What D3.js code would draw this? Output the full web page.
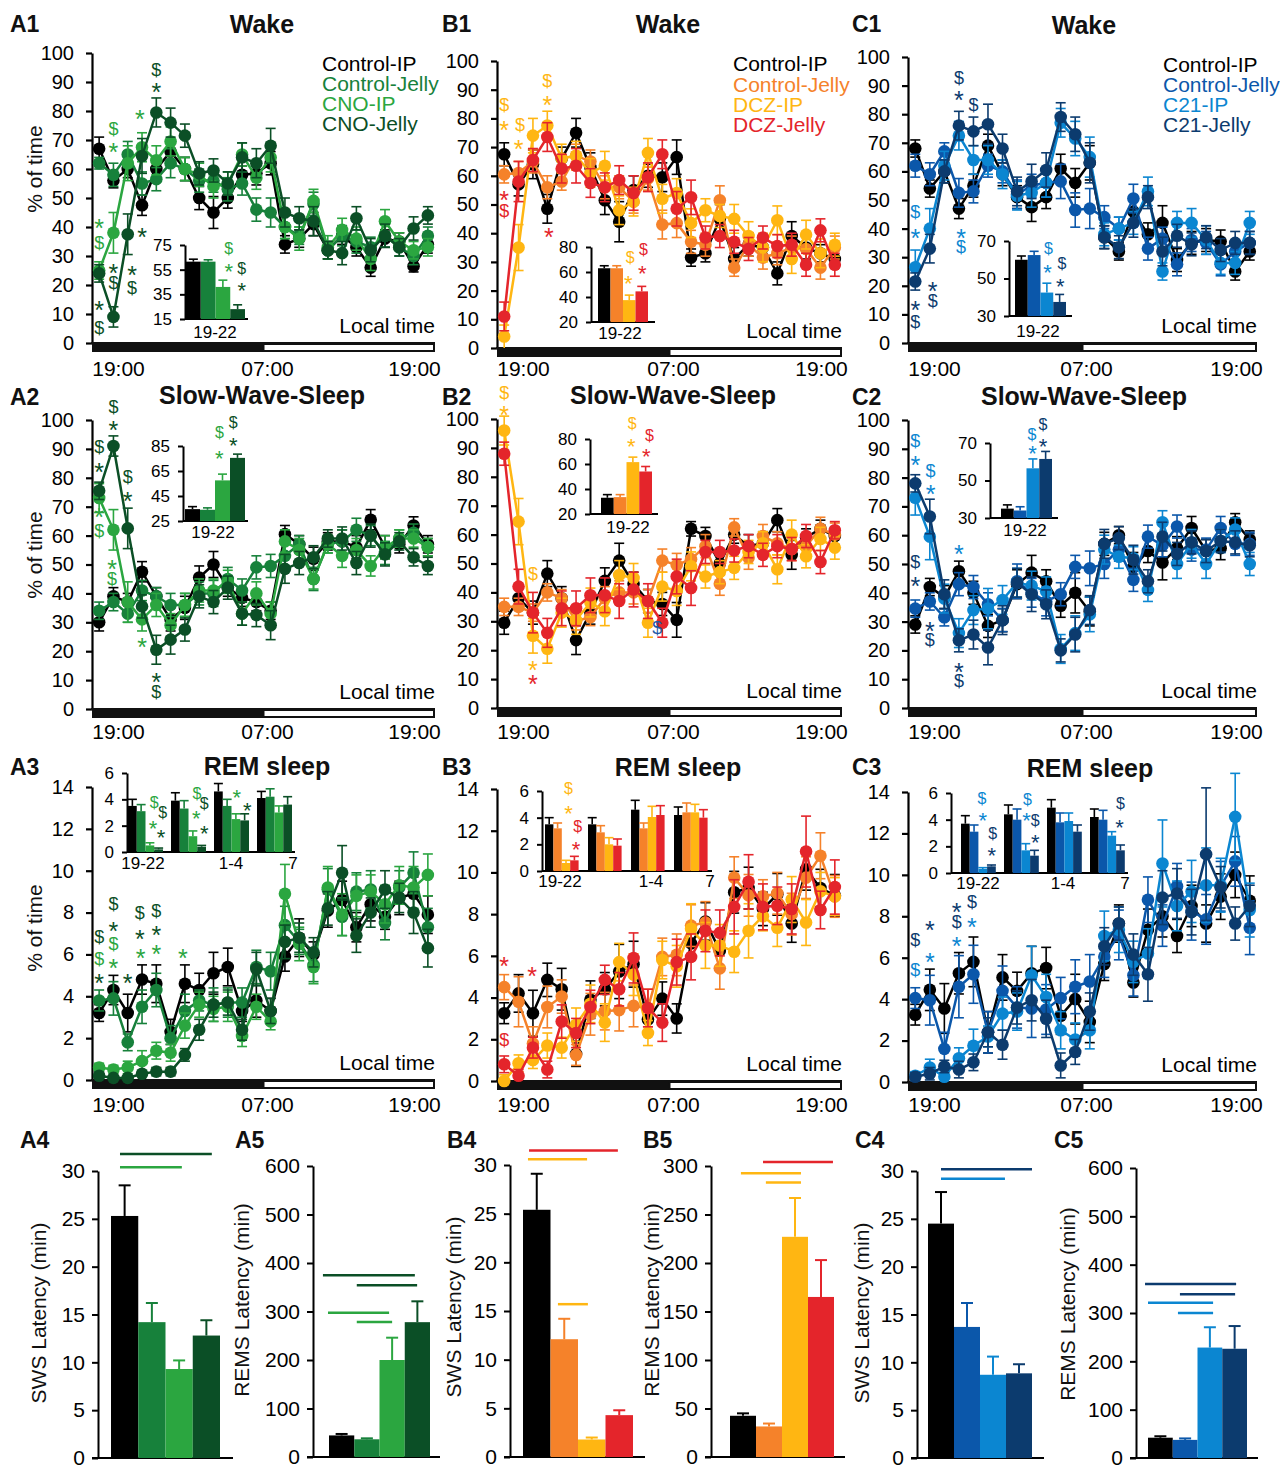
<!DOCTYPE html>
<html><head><meta charset="utf-8">
<script src="https://cdn.jsdelivr.net/npm/d3@7"></script>
<style>body{margin:0;background:#fff}svg{display:block}</style>
</head><body><script>
// ---------------- DATA ----------------
const hours = d3.range(24);
const xTickHours = [0, 12, 24];
const xTickLabels = ["19:00", "07:00", "19:00"];
const pctTicks = [0,10,20,30,40,50,60,70,80,90,100];
const remTicks = [0,2,4,6,8,10,12,14];
const swsLatTicks = [0,5,10,15,20,25,30];
const rems600Ticks = [0,100,200,300,400,500,600];
const rems300Ticks = [0,50,100,150,200,250,300];

const legendA = ["Control-IP","Control-Jelly","CNO-IP","CNO-Jelly"];
const legendB = ["Control-IP","Control-Jelly","DCZ-IP","DCZ-Jelly"];
const legendC = ["Control-IP","Control-Jelly","C21-IP","C21-Jelly"];
const colorsA = ["#000000","#17813b","#2ba640","#0b4f26"];
const colorsB = ["#000000","#f5822a","#ffb612","#e4252b"];
const colorsC = ["#000000","#0b57aa","#0b86d1","#0c3b6e"];

const titles = ["Wake","Slow-Wave-Sleep","REM sleep"];
const insetGroupLabels = ["19-22","1-4","7"];

// A1 Wake (CNO)
const A1_controlIP    = [67,56,60,47.5,60,66,60,50,45,50,58,58.5,62,34,36,41,32,37,33,26,36,35,26.5,34];
const A1_controlJelly = [62,58,65,55,56.5,62,60,56,56,53,55,46,45,40,37,48,32,37,35,33,37,33,30,37];
const A1_cnoIP        = [25,38,62,67.5,63,69.5,60,58,54,55,65,57,64,40,36,49,33,39,36,29,42,35,32,33];
const A1_cnoJelly     = [24,9,37.5,64.5,79.5,76,71.5,58.5,59.5,55,64,62,68,45,43,42,32,31,43,32,37,33,39.5,44];
const A1_err = [
 [4,2.5,3,3.5,3.5,4,4,4,5.5,3.5,3,4,4,3,3,4,3,3,3,3,3,3,2,3],
 [2,4,4.5,4,4,5,4,4,4,4,4,4,5,4,3,4,3,3.5,4,3.5,4,3,3,3],
 [3,7,6,5,5,5,4,4,4,4,4,4,5,4,4,4,4,4,4,4,4,3,3,3],
 [3,3.5,7,6,5,5,4,4,4,4,5,5,6,5,4,5,3,4,4,4,4,3,4,3]];
const A1_inset = [61.5,61.5,41,23];
const A1_insetErr = [2,1.5,5.5,3.5];
const A1_marks = [[0,41.4,"*",2],[0,34.5,"$",2],[0,13.2,"*",3],[0,5.2,"$",3],[1,74,"$",2],[1,67.8,"*",2],[1,25.9,"*",3],[1,20.7,"$",3],[2.3,25.3,"*",3],[2.3,19,"$",3],[3,38.5,"*",3],[2.85,79.3,"*",2],[4,94.3,"$",3],[4,88.3,"*",3]];
const A1_insetMarks = [[0,2.9,72.3,"$",2],[0,2.9,57.5,"*",2],[0,3.78,56.2,"$",3],[0,3.78,42,"*",3]];

// A2 SWS (CNO)
const A2_controlIP    = [30,39,37,47.5,39,31,35,45.5,50,42,38.5,37,34,60.5,57,52,58,58,56,65.5,56,57,63.5,57];
const A2_controlJelly = [34,37,33,41,39,36,36,40,40,45,41,49,49.5,53,57,45,57,58,62,60,54,59,61,56];
const A2_cnoIP        = [73,62,37,31,36,29,36,41,41,44,33,40,33,58,55,45,57,53,55,49.5,56,59,59,56];
const A2_cnoJelly     = [75.5,91,62.5,35.5,20.5,24,27.5,39,37,42,33,32.5,29,48.5,50.5,52.5,59,59,50.5,60,53.5,58,52.5,49.5];
const A2_err = [
 [3,3,3,3.5,3,4,4,4,4.5,3,3,3,3,3,3,4,3,4,4,3.5,4,3,3,3],
 [3,3,3,3.5,3,4,4,4,4.5,4,4,4,4,4,3,4,3,4,4,3.5,4,3,3,3],
 [5,7,7,4,4,4,4,4,4,4,4,4,4,4,4,3.5,3,4,4,3.5,4,3,3,3],
 [3,3.5,7,4,5,5,4,4,4,4,4,4,5,5,4,4,3,4,4,4,4,3,3,3]];
const A2_inset = [34.5,34,57.5,75.5];
const A2_insetErr = [2,1.5,5,3];
const A2_marks = [[0,90.7,"$",3],[0,83.8,"*",3],[0,68.3,"*",2],[0,61.9,"$",2],[1,104.6,"$",3],[1,98.5,"*",3],[0.9,50.4,"*",2],[0.9,45.2,"$",2],[2,80.4,"$",3],[2,74,"*",3],[3,23.3,"*",2],[4,11.2,"*",3],[4,6,"$",3]];
const A2_insetMarks = [[0,2.29,96.2,"$",2],[0,2.29,78.9,"*",2],[0,3.22,104.2,"$",3],[0,3.22,89.5,"*",3]];

// A3 REM (CNO)
const A3_controlIP    = [3.2,4.3,3.2,4.8,4.6,2.3,4.6,4.3,5.1,5.4,3.3,3.8,3.3,5.9,6.8,6.0,8.1,8.6,7.3,8.4,7.8,8.7,8.9,7.9];
const A3_controlJelly = [3.8,3.9,1.8,3.5,4.3,2.0,3.3,3.8,3.6,3.7,3.7,5.4,5.2,7.4,6.6,5.5,9.1,7.8,9.0,9.1,7.5,9.2,9.9,7.3];
const A3_cnoIP        = [0.6,0.5,0.6,0.9,1.4,1.3,2.6,3.6,3.4,3.5,2.1,3.5,2.8,8.9,6.5,5.4,9.2,7.9,8.8,9.0,8.4,9.3,9.2,9.8];
const A3_cnoJelly     = [0.2,0.1,0.1,0.3,0.4,0.4,1.2,2.4,3.6,3.7,2.4,5.3,3.3,6.6,6.8,6.1,8.2,9.9,6.9,8.0,9.1,8.7,8.0,6.3];
const A3_err = [
 [0.4,0.7,0.9,0.7,0.9,0.6,0.9,0.8,1.0,0.9,0.5,0.8,0.6,0.7,0.9,0.6,0.8,0.9,0.7,0.8,0.6,0.8,0.8,0.9],
 [0.5,0.8,0.4,0.8,0.8,0.6,0.8,0.5,0.8,0.7,0.7,0.8,0.9,0.9,0.6,0.8,1.0,0.9,0.9,0.9,0.8,0.8,1.0,0.9],
 [0.2,0.2,0.3,0.5,0.4,0.4,0.6,0.6,0.6,0.7,0.5,0.6,0.4,1.4,0.8,0.8,1.0,1.0,1.0,0.8,0.9,0.9,1.0,1.0],
 [0.1,0.1,0.1,0.1,0.2,0.2,0.3,0.5,0.6,0.6,0.5,0.8,0.6,0.8,0.7,0.7,0.8,1.3,0.8,0.7,0.9,0.7,1.0,0.9]];
const A3_inset = [[3.5,3.1,0.5,0.2],[3.9,3.3,1.2,0.4],[4.6,3.5,2.5,2.4],[4.1,4.2,3.0,3.6]];
const A3_insetErr = [[0.5,0.5,0.2,0.1],[0.6,0.6,0.4,0.1],[0.6,0.5,0.4,0.5],[0.5,0.6,0.5,0.6]];
const A3_marks = [[0,6.86,"$",3],[0,5.8,"$",2],[0,4.9,"*",3],[1,8.45,"$",3],[1,7.4,"*",3],[1,6.5,"$",2],[1,5.6,"*",2],[2,4.9,"*",3],[2.85,8.0,"$",3],[2.85,7.0,"*",3],[2.9,6.1,"*",2],[4,8.1,"$",3],[4,7.2,"*",3],[4,6.3,"*",2],[5.85,6.1,"*",2]];
const A3_insetMarks = [[0,3.0,3.8,"$",2],[0,3.96,3.04,"$",3],[0,2.86,2.2,"*",2],[0,3.77,1.52,"*",3],[1,2.97,4.5,"$",2],[1,3.8,3.67,"$",3],[1,2.9,2.96,"*",2],[1,3.8,1.77,"*",3],[2,2.6,4.56,"*",2],[2,3.8,3.54,"*",3]];

// B1 Wake (DCZ)
const B1_controlIP    = [67.5,57,64,48.5,66,75,63,51.5,44,55,60,59.5,66.5,31.5,33,45,31,36,35,26,39,35,33,31];
const B1_controlJelly = [60.5,61,65,56,58,67,65,56,56,51,59,43,43.5,37,36,51.5,28,36,31.5,33,35,34.5,28,35];
const B1_dczIP        = [4,35,74,77.5,66,67,61,63.5,48,51,68,52,54,43.5,48,46,45,39,35,44.5,31,39.5,33,36];
const B1_dczJelly     = [11,58,65.5,73.5,62.5,63.5,57.5,56,58.5,54,59.5,67.5,48.5,52.5,38.5,39,37,34.5,38.5,35.5,36,29,41,29];
const B1_err = [
 [4,4,5,5,4,5,5,5,7,5,4,5,6,3,3,5,4,4,3,4,5,4,3,3],
 [3,4,4,4,3,4,4,4,4,4,4,5,5,4,4,5,3,4,4,4,4,4,4,4],
 [4,8,6,5,5,5,5,5,5,5,5,5,5,5,4,4,5,5,5,5,5,5,5,4],
 [5,7,4,5,5,6,5,5,5,6,5,5,6,6,4,4,4,4,4,4,4,4,4,4]];
const B1_inset = [63,63,37.5,44.5];
const B1_insetErr = [2,2,4,4];
const B1_marks = [[0,84.9,"$",2],[0,77.9,"*",2],[0,53.5,"*",3],[0,48,"$",3],[1.1,77.7,"$",2],[1,71.3,"*",2],[3,93.1,"$",2],[3,86.5,"*",2],[3.1,40.5,"*",3]];
const B1_insetMarks = [[0,2.58,71.5,"$",2],[0,2.42,55.2,"*",2],[0,3.63,77.9,"$",3],[0,3.55,63.2,"*",3]];

// B2 SWS (DCZ)
const B2_controlIP    = [29.5,38,33,46.5,38,23.5,33,44,51,43,37,36,30.5,62,59.5,50,60,56,57,65,53,59,62,59.5];
const B2_controlJelly = [35,35,33,40,38,30,31.5,38,40,40,37,51,49.5,51.5,56,43,62.5,52,59.5,57,55,56,62,60];
const B2_dczIP        = [96,64.5,25,20.5,33,30.5,36.5,33.5,46,45,29.5,42,40.5,49,45.5,47,48.5,54,57,48,60,52.5,58.5,55.5];
const B2_dczJelly     = [88,42,33,26,34.5,34.5,39,39,37,41,37,29.5,45.5,41.5,54,54,54.5,56,53,56,55,59.5,50.5,61.5];
const B2_err = [
 [4,4,4,4.5,4,5,4,4.5,6,4,4,4,6,2.5,3,4,3,4,4,4,5,3,3,3],
 [3,3,3,3,3,3,3,4,4,4,4,4,4,4,4,4,3,4,4,4,4,4,4,4],
 [5,8,6,5,5,5,5,5,5,5,5,5,5,5,4,4,4,4,4,5,5,4,4,4],
 [4,6,7,5,6,6,6,6,6,6,6,5,6,6,4,4,4,4,4,4,4,4,4,3]];
const B2_inset = [33,33.5,61.5,54];
const B2_insetErr = [2.5,2,4,4];
const B2_marks = [[0,109,"$",2],[0,103.2,"*",2],[2,46.4,"$",2],[2,15,"*",2],[2,10.1,"*",3],[10.65,28,"$","#1f5aa6"]];
const B2_insetMarks = [[0,2.45,92.5,"$",2],[0,2.37,77.9,"*",2],[0,3.8,83.2,"$",3],[0,3.55,70.5,"*",3]];

// B3 REM (DCZ)
const B3_controlIP    = [3.25,4.2,3.25,4.85,4.4,1.3,3.9,4.4,5.25,5.6,2.95,3.95,3.0,6.6,7.65,6.25,9.05,9.25,8.25,8.95,7.55,10.15,9.25,8.9];
const B3_controlJelly = [4.5,3.8,1.8,3.55,4.05,1.25,3.2,3.35,3.4,3.6,3.5,5.95,6.05,7.45,7.6,5.4,9.75,8.9,8.85,9.0,8.0,9.75,10.8,8.85];
const B3_dczIP        = [0.0,0.85,1.0,1.7,1.6,2.7,3.7,2.8,5.7,5.1,2.3,5.8,5.5,7.3,6.5,6.5,6.2,7.2,7.9,7.35,8.7,7.6,9.1,8.85];
const B3_dczJelly     = [0.8,0.25,1.6,0.55,2.85,2.3,3.55,4.85,4.4,5.9,3.5,2.8,5.7,5.95,7.2,7.1,8.35,9.55,8.35,8.4,8.25,11.0,8.2,9.3];
const B3_err = [
 [0.5,0.9,1.1,0.8,1.0,0.6,0.9,0.8,1.3,1.1,0.6,0.8,0.7,0.8,0.9,0.8,1.0,1.0,0.8,1.0,0.9,1.0,0.9,1.0],
 [0.6,1.2,0.8,1.0,0.8,0.5,1.0,0.9,1.0,1.0,0.9,0.9,1.0,1.0,1.0,1.0,1.0,1.0,0.8,1.0,1.0,1.0,1.1,1.0],
 [0.3,0.4,0.4,0.6,0.5,0.8,0.9,0.9,0.9,1.0,0.6,0.9,1.0,1.2,1.1,1.0,1.0,1.3,0.7,0.9,1.1,1.1,0.9,0.9],
 [0.4,0.3,0.5,0.4,0.8,0.7,0.8,0.7,0.8,1.2,0.9,0.9,1.1,1.1,1.0,1.1,1.3,1.3,1.1,0.9,1.2,1.7,0.9,1.3]];
const B3_inset = [[3.5,3.2,0.6,0.8],[3.5,2.9,2.0,1.9],[4.6,3.2,4.05,4.2],[4.2,4.4,4.4,4.0]];
const B3_insetErr = [[0.5,0.4,0.2,0.3],[0.5,0.5,0.5,0.5],[0.7,0.4,0.8,0.7],[0.6,0.7,0.6,0.6]];
const B3_marks = [[0,5.8,"*",3],[0,1.97,"$",3],[1.95,5.3,"*",3]];
const B3_insetMarks = [[0,2.8,6.2,"$",2],[0,2.8,4.7,"*",2],[0,3.9,3.36,"$",3],[0,3.7,2.0,"*",3]];

// C1 Wake (C21)
const C1_controlIP    = [68,54,60,47,55,69,59,51,47.5,51,61,56,63,37,32,46,38,42,29,35,36,35.5,25,32];
const C1_controlJelly = [62,59,67,52.5,53,62,60,52,55,56,56.5,46.5,47,44,40,50.5,33,36.5,27.5,36,35,27.5,32,35];
const C1_c21IP        = [26.5,40,62,72.5,64,64,59,51.5,52.5,56,77,71.5,65,38,40,42,53,25,42,42,36,28,28,42];
const C1_c21Jelly     = [21.5,33,60,76,74,76.5,68,53,56.5,60.5,79,73,63,37,33.5,42,51,32,37.5,34.5,37,32.5,35,35];
const C1_err = [
 [3,3,4,3.5,4,4,4,4,5,4,5,5,6,4,3,5,4,6,4,4,4,4,3,3],
 [4,4,3,5,4,4,4,5,4,5,6,6,7,4,4,5,4,4,4,4,4,4,4,4],
 [6,7,5,5,5,5,5,5,5,5,5,6,7,4,4,4,5,3,4,5,5,4,4,4],
 [3,5,4,5,5,7,5,5,6,6,5,6,7,4,4,5,4,5,4,4,4,4,4,4]];
const C1_inset = [60,62.5,42.5,37.5];
const C1_insetErr = [2,2,5,4];
const C1_marks = [[0,46,"$",2],[0,38.8,"*",2],[0,13.4,"*",3],[0,7.6,"$",3],[1.2,20,"*",3],[1.2,14.9,"$",3],[3,93,"$",3],[3,86.8,"*",3],[4,83.3,"$",3],[3.15,38.8,"*",2],[3.15,33.6,"$",2]];
const C1_insetMarks = [[0,2.63,65.9,"$",2],[0,2.55,56.2,"*",2],[0,3.68,58,"$",3],[0,3.55,48.6,"*",3]];

// C2 SWS (C21)
const C2_controlIP    = [29,42,38.5,47.5,40,28.5,30.5,43,47,44,35.5,40,33.5,57,60,49,54.5,50.5,55.5,62.5,54.5,55.5,64.5,58.5];
const C2_controlJelly = [34.5,37,31.5,43,42,36,30.5,44,40,37,39.5,49,48.5,50,55,44.5,59.5,56.5,63,55,55,62.5,57,57];
const C2_c21IP        = [73,59.5,38,26,34,34.5,37.5,43.5,42.5,40.5,20.5,26,32.5,55,52.5,52,41,64.5,50,57,50,58,62,50];
const C2_c21Jelly     = [78,66.5,39.5,23.5,25.5,21,30.5,43.5,39.5,36,20,25.5,34,57,59,51.5,44,59.5,53.5,57.5,54.5,58,57.5,56.5];
const C2_err = [
 [3,3,4,3.5,4,4,4,5,6,4,4,7,5,4,3,5,4,6,4,4,4,4,3,3],
 [3,3,3,4,4,4,4,6,5,5,4,4,6,5,4,4,4,4,4,4,4,4,4,4],
 [6,8,5,5,5,7,5,5,5,5,5,6,6,5,4,4,4,4,5,5,5,4,4,4],
 [3,6,5,4,5,6,5,5,6,5,4,6,5,5,4,5,4,5,4,4,4,4,4,4]];
const C2_inset = [35,34,56.5,61.5];
const C2_insetErr = [2,2,5,4];
const C2_marks = [[0,92.8,"$",2],[0,86.3,"*",2],[0,51,"$",3],[0,44.1,"*",3],[1.05,82.5,"$",2],[1.05,76.1,"*",2],[1,28.8,"*",3],[1,23.8,"$",3],[3,55.4,"*",2],[3,14.4,"*",3],[3,9.5,"$",3]];
const C2_insetMarks = [[0,2.42,74.8,"$",2],[0,2.47,67,"*",2],[0,3.3,79.9,"$",3],[0,3.3,70.9,"*",3]];

// C3 REM (C21)
const C3_controlIP    = [3.25,4.45,3.55,5.25,5.8,2.4,5.05,4.4,5.25,5.5,3.2,4.0,2.9,5.7,7.65,4.8,7.35,8.0,7.05,8.5,7.65,8.95,10.0,8.75];
const C3_controlJelly = [4.05,3.95,1.6,4.6,5.2,2.4,4.4,3.6,3.55,3.5,4.05,4.6,4.85,6.05,7.1,5.15,8.8,7.55,9.45,8.25,7.85,9.45,10.65,7.45];
const C3_c21IP        = [0.3,0.7,0.25,1.15,1.75,2.2,3.3,3.4,5.15,4.1,2.5,2.05,2.5,7.05,7.35,5.8,6.2,10.55,8.5,9.2,9.5,9.5,12.8,8.3];
const C3_c21Jelly     = [0.25,0.4,0.75,0.6,0.95,2.4,1.8,3.6,3.95,3.05,0.8,1.45,3.4,6.55,7.65,6.15,5.2,8.9,9.1,8.2,11.0,9.4,7.65,8.5];
const C3_err = [
 [0.5,1.0,1.2,1.0,1.2,1.0,1.1,0.9,1.3,1.0,0.9,1.2,1.0,0.8,0.9,0.7,1.0,1.0,0.8,1.0,0.9,1.1,1.1,1.2],
 [0.5,1.2,0.8,1.5,1.4,1.0,1.2,1.0,1.4,1.2,1.0,1.3,1.3,1.0,1.2,1.0,1.1,1.0,1.1,1.4,1.2,1.2,1.2,1.3],
 [0.2,0.4,0.3,0.5,0.8,0.5,0.8,0.9,1.4,1.1,0.9,0.8,0.9,1.2,1.1,1.0,1.2,2.1,1.2,1.5,1.8,1.3,2.1,1.3],
 [0.2,0.3,0.3,0.4,0.4,0.7,0.7,0.8,1.0,0.9,0.6,0.6,0.9,0.9,0.8,1.0,1.3,1.3,1.2,1.1,3.2,1.0,0.8,1.0]];
const C3_inset = [[3.7,3.1,0.3,0.5],[4.4,4.0,1.7,1.3],[4.9,3.8,3.9,3.1],[4.2,4.0,2.8,1.7]];
const C3_insetErr = [[0.6,0.5,0.1,0.1],[0.7,0.8,0.5,0.4],[0.6,0.7,0.6,0.5],[0.6,0.7,0.3,0.4]];
const C3_marks = [[0,6.88,"$",3],[0,5.43,"$",2],[1,7.6,"*",3],[1,6.04,"*",2],[2.85,8.45,"*",3],[2.85,7.73,"$",3],[2.85,6.84,"*",2],[3.9,8.7,"$",3],[3.9,7.73,"*",2]];
const C3_insetMarks = [[0,2.4,5.63,"$",2],[0,2.5,4.33,"*",2],[0,3.65,2.95,"$",3],[0,3.55,1.7,"*",3],[1,2.7,5.5,"$",2],[1,2.6,4.33,"*",2],[1,3.6,3.95,"$",3],[1,3.6,2.7,"*",3],[3,3.5,5.2,"$",3],[3,3.4,3.83,"*",3]];

// Latency panels
const A4_swsLatency = [25.3,14.2,9.3,12.8];  const A4_err = [3.2,2.0,0.9,1.6];
const A5_remsLatency = [44.5,36.5,200,278];  const A5_err = [3,2,46,43];
const B4_swsLatency = [25.4,12.1,1.8,4.3];   const B4_err = [3.7,2.1,0.2,0.5];
const B5_remsLatency = [42.5,31.5,227,165];  const B5_err = [2.5,3,40,38];
const C4_swsLatency = [24.5,13.7,8.7,8.85];  const C4_err = [3.3,2.5,1.9,0.95];
const C5_remsLatency = [42,37.5,228.5,226];  const C5_err = [3,3,42,47];
// significance bars: [value, fromBar, toBar, colorIdx]
const A4_sig = [[31.77,0.33,3.7,3],[30.4,0.33,2.6,2]];
const A5_sig = [[375,-0.24,3.4,3],[354,1.1,3.49,3],[297.6,-0.04,2.38,2],[278.4,1.1,2.5,2]];
const B4_sig = [[31.5,0.22,3.45,3],[30.6,0.18,2.33,2],[15.7,1.27,2.36,2]];
const B5_sig = [[304,1.27,3.96,3],[292.5,0.42,2.73,2],[283,1.38,2.73,2]];
const C4_sig = [[30.17,0.5,4.0,3],[29.2,0.5,2.96,2]];
const C5_sig = [[360,-0.12,3.56,3],[339,1.29,3.52,3],[321,0,2.63,2],[300,1.21,2.63,2]];

// ---------------- DRAWING ----------------
const FONT = "'Liberation Sans', Arial, Helvetica, sans-serif";
const svg = d3.select("body").append("svg").attr("width",1280).attr("height",1467)
  .attr("font-family",FONT);
const fmt = d3.format("~g");

function styleAxis(sel, fs, sw) {
  sel.attr("font-family",FONT);
  sel.select(".domain").attr("stroke","#000").attr("stroke-width",sw||2);
  sel.selectAll(".tick line").attr("stroke","#000").attr("stroke-width",sw||2);
  sel.selectAll(".tick text").attr("font-size",fs).attr("fill","#000");
}
function mark(g, x, y, txt, color, big) {
  const isStar = txt === "*";
  g.append("text").attr("x",x).attr("y",y).attr("text-anchor","middle")
    .attr("dy", isStar ? "0.58em" : "0.36em")
    .attr("font-size", isStar ? (big?25:22) : (big?18:16))
    .attr("fill",color).text(txt);
}
const colCfg = [
  {x0:92, w:343, colors:colorsA, names:legendA, legendX:322, legendY:[71,91,111,131], labelX:10},
  {x0:497, w:345, colors:colorsB, names:legendB, legendX:733, legendY:[71,92,112,132], labelX:442},
  {x0:908, w:349, colors:colorsC, names:legendC, legendX:1163, legendY:[72,92,112,132], labelX:852}
];
const yLayout = [
  [[53,343],[61,348],[57,343]],
  [[420,709],[419,708],[420,708]],
  [[787,1080],[789,1081],[792,1082]]
];
const titleX = [[262,668,1084],[262,673,1084],[267,678,1090]];
const titleY = [[33,33,34],[404,404,405],[775,776,777]];
const labelY = [32,405,775];
const yLabelCenter = [169,555,928];
const xLabelBase = [376,739,1112];

function drawInset(g, s, colors) {
  const y = d3.scaleLinear().domain(s.domain).range([s.yBot, s.yTop]);
  const ax = g.append("g").attr("transform",`translate(${s.axisX},0)`)
    .call(d3.axisLeft(y).tickValues(s.ticks).tickFormat(fmt).tickSize(5).tickSizeOuter(0).tickPadding(8));
  styleAxis(ax, 17, 2);
  g.append("line").attr("x1",s.axisX).attr("x2",s.xEnd).attr("y1",s.yBot).attr("y2",s.yBot)
    .attr("stroke","#000").attr("stroke-width",2);
  const step = s.step || 0;
  const bx = (gi,pos) => s.barX0 + gi*step + pos*s.barW;
  s.groups.forEach((vals,gi) => {
    vals.forEach((v,k) => {
      const e = s.errs[gi][k];
      g.append("rect").attr("x",bx(gi,k)).attr("y",y(v)).attr("width",s.barW)
        .attr("height",s.yBot - y(v)).attr("fill",colors[k]);
      const cx = bx(gi,k+0.5);
      g.append("line").attr("x1",cx).attr("x2",cx).attr("y1",y(v)).attr("y2",y(v+e))
        .attr("stroke",colors[k]).attr("stroke-width",1.6);
      g.append("line").attr("x1",cx-4.5).attr("x2",cx+4.5).attr("y1",y(v+e)).attr("y2",y(v+e))
        .attr("stroke",colors[k]).attr("stroke-width",1.6);
    });
  });
  s.labels.forEach(([t,x]) => g.append("text").attr("x",x).attr("y",s.labelY)
    .attr("text-anchor","middle").attr("font-size",17).attr("fill","#000").text(t));
  s.marks.forEach(([gi,pos,v,t,ci]) => mark(g, bx(gi,pos), y(v), t, colors[ci], false));
}

function drawLinePanel(p) {
  const c = colCfg[p.col];
  const [yTop, y0] = yLayout[p.row][p.col];
  const max = p.row === 2 ? 14 : 100;
  const ticks = p.row === 2 ? remTicks : pctTicks;
  const x = d3.scaleLinear().domain([0,24]).range([c.x0, c.x0 + c.w]);
  const y = d3.scaleLinear().domain([0,max]).range([y0, yTop]);
  const g = svg.append("g");
  // y axis
  const ay = g.append("g").attr("transform",`translate(${c.x0},0)`)
    .call(d3.axisLeft(y).tickValues(ticks).tickFormat(fmt).tickSize(6).tickSizeOuter(0).tickPadding(12));
  styleAxis(ay, 20, 2.2);
  // day/night bar
  g.append("rect").attr("x",x(0)).attr("y",y0).attr("width",x(12)-x(0)).attr("height",9).attr("fill","#111");
  g.append("rect").attr("x",x(12)).attr("y",y0+1).attr("width",x(24)-x(12)-1).attr("height",7).attr("fill","#fff")
    .attr("stroke","#111").attr("stroke-width",2);
  g.append("line").attr("x1",c.x0-1).attr("x2",x(24)).attr("y1",y0).attr("y2",y0).attr("stroke","#111").attr("stroke-width",2);
  // x labels
  const dxs = [26, 3.5, -21];
  const base = xLabelBase[p.row];
  const ax = g.append("g").attr("transform",`translate(0,${base - 23})`)
    .call(d3.axisBottom(x).tickValues(xTickHours).tickFormat((d,i)=>xTickLabels[i]).tickSize(0).tickPadding(8));
  ax.attr("font-family",FONT);
  ax.select(".domain").remove();
  ax.selectAll(".tick text").attr("font-size",21).attr("fill","#000").attr("dx",(d,i)=>dxs[i]);
  // Local time
  g.append("text").attr("x",x(24)).attr("y",y0-10).attr("text-anchor","end")
    .attr("font-size",21).attr("fill","#000").text("Local time");
  // titles
  g.append("text").attr("x",titleX[p.row][p.col]).attr("y",titleY[p.row][p.col]).attr("text-anchor","middle")
    .attr("font-size",25).attr("font-weight","bold").attr("fill","#111").text(titles[p.row]);
  g.append("text").attr("x",c.labelX).attr("y",labelY[p.row]).attr("font-size",23)
    .attr("font-weight","bold").attr("fill","#111").text(p.id);
  if (p.col === 0) {
    g.append("text").attr("transform",`translate(35,${yLabelCenter[p.row]}) rotate(-90)`)
      .attr("text-anchor","middle").attr("dy","0.35em").attr("font-size",21).attr("fill","#111").text("% of time");
  }
  if (p.row === 0) {
    c.names.forEach((n,k) => g.append("text").attr("x",c.legendX).attr("y",c.legendY[k])
      .attr("font-size",21).attr("fill",c.colors[k]).text(n));
  }
  // inset
  drawInset(g.append("g"), p.inset, c.colors);
  // series
  p.series.forEach((vals,k) => {
    const col = c.colors[k];
    const pts = vals.map((v,i) => ({i, v, e:p.errs[k][i]}));
    const sg = g.append("g");
    const xp = d => x(d.i + 0.5);
    const lo = d => y(Math.max(0, d.v - d.e)), hi = d => y(d.v + d.e);
    sg.selectAll("line.v").data(pts).join("line").attr("x1",xp).attr("x2",xp).attr("y1",lo).attr("y2",hi)
      .attr("stroke",col).attr("stroke-width",1.6);
    sg.selectAll("line.t").data(pts).join("line").attr("x1",d=>xp(d)-5).attr("x2",d=>xp(d)+5).attr("y1",hi).attr("y2",hi)
      .attr("stroke",col).attr("stroke-width",1.6);
    sg.selectAll("line.b").data(pts.filter(d=>d.v-d.e>0)).join("line").attr("x1",d=>xp(d)-5).attr("x2",d=>xp(d)+5).attr("y1",lo).attr("y2",lo)
      .attr("stroke",col).attr("stroke-width",1.6);
    sg.append("path").datum(pts).attr("fill","none").attr("stroke",col).attr("stroke-width",2.5)
      .attr("d", d3.line().x(xp).y(d=>y(d.v)));
    sg.selectAll("circle").data(pts).join("circle").attr("cx",xp).attr("cy",d=>y(d.v)).attr("r",6.3).attr("fill",col);
  });
  p.marks.forEach(([h,v,t,ci]) => mark(g, x(h+0.5), y(v), t, typeof ci === "string" ? ci : c.colors[ci], true));
}

const panels = [
  {id:"A1", col:0, row:0, series:[A1_controlIP,A1_controlJelly,A1_cnoIP,A1_cnoJelly], errs:A1_err, marks:A1_marks,
   inset:{axisX:185,yTop:245,yBot:319,domain:[15,75],ticks:[15,35,55,75],groups:[A1_inset],errs:[A1_insetErr],barX0:186,barW:14.75,xEnd:248,labels:[[insetGroupLabels[0],215]],labelY:338,marks:A1_insetMarks}},
  {id:"B1", col:1, row:0, series:[B1_controlIP,B1_controlJelly,B1_dczIP,B1_dczJelly], errs:B1_err, marks:B1_marks,
   inset:{axisX:591,yTop:247,yBot:322,domain:[20,80],ticks:[20,40,60,80],groups:[B1_inset],errs:[B1_insetErr],barX0:598,barW:12.5,xEnd:655,labels:[[insetGroupLabels[0],620]],labelY:339,marks:B1_insetMarks}},
  {id:"C1", col:2, row:0, series:[C1_controlIP,C1_controlJelly,C1_c21IP,C1_c21Jelly], errs:C1_err, marks:C1_marks,
   inset:{axisX:1009,yTop:241,yBot:316,domain:[30,70],ticks:[30,50,70],groups:[C1_inset],errs:[C1_insetErr],barX0:1015,barW:12.75,xEnd:1072,labels:[[insetGroupLabels[0],1038]],labelY:337,marks:C1_insetMarks}},
  {id:"A2", col:0, row:1, series:[A2_controlIP,A2_controlJelly,A2_cnoIP,A2_cnoJelly], errs:A2_err, marks:A2_marks,
   inset:{axisX:183,yTop:446,yBot:521,domain:[25,85],ticks:[25,45,65,85],groups:[A2_inset],errs:[A2_insetErr],barX0:185,barW:15,xEnd:248,labels:[[insetGroupLabels[0],213]],labelY:538,marks:A2_insetMarks}},
  {id:"B2", col:1, row:1, series:[B2_controlIP,B2_controlJelly,B2_dczIP,B2_dczJelly], errs:B2_err, marks:B2_marks,
   inset:{axisX:590,yTop:439,yBot:514,domain:[20,80],ticks:[20,40,60,80],groups:[B2_inset],errs:[B2_insetErr],barX0:601,barW:12.75,xEnd:658,labels:[[insetGroupLabels[0],628]],labelY:533,marks:B2_insetMarks}},
  {id:"C2", col:2, row:1, series:[C2_controlIP,C2_controlJelly,C2_c21IP,C2_c21Jelly], errs:C2_err, marks:C2_marks,
   inset:{axisX:990,yTop:443,yBot:518,domain:[30,70],ticks:[30,50,70],groups:[C2_inset],errs:[C2_insetErr],barX0:1001,barW:12.75,xEnd:1058,labels:[[insetGroupLabels[0],1025]],labelY:536,marks:C2_insetMarks}},
  {id:"A3", col:0, row:2, series:[A3_controlIP,A3_controlJelly,A3_cnoIP,A3_cnoJelly], errs:A3_err, marks:A3_marks,
   inset:{axisX:127,yTop:773,yBot:852,domain:[0,6],ticks:[0,2,4,6],groups:A3_inset,errs:A3_insetErr,barX0:128,barW:8.75,step:43,xEnd:295,labels:[[insetGroupLabels[0],143],[insetGroupLabels[1],231],[insetGroupLabels[2],293]],labelY:869,marks:A3_insetMarks}},
  {id:"B3", col:1, row:2, series:[B3_controlIP,B3_controlJelly,B3_dczIP,B3_dczJelly], errs:B3_err, marks:B3_marks,
   inset:{axisX:542,yTop:791,yBot:871,domain:[0,6],ticks:[0,2,4,6],groups:B3_inset,errs:B3_insetErr,barX0:545,barW:8.4,step:43,xEnd:712,labels:[[insetGroupLabels[0],560],[insetGroupLabels[1],651],[insetGroupLabels[2],710]],labelY:887,marks:B3_insetMarks}},
  {id:"C3", col:2, row:2, series:[C3_controlIP,C3_controlJelly,C3_c21IP,C3_c21Jelly], errs:C3_err, marks:C3_marks,
   inset:{axisX:951,yTop:793,yBot:873,domain:[0,6],ticks:[0,2,4,6],groups:C3_inset,errs:C3_insetErr,barX0:961,barW:8.7,step:43,xEnd:1128,labels:[[insetGroupLabels[0],978],[insetGroupLabels[1],1063],[insetGroupLabels[2],1125]],labelY:889,marks:C3_insetMarks}}
];
panels.forEach(drawLinePanel);

function drawLatency(p) {
  const g = svg.append("g");
  const y = d3.scaleLinear().domain([0,p.max]).range([p.y0,p.yTop]);
  const xb = d3.scaleBand().domain(d3.range(p.vals.length)).range([p.barX0, p.barX0 + 4*p.barW]).padding(0);
  const xu = d3.scaleLinear().domain([0,4]).range([p.barX0, p.barX0 + 4*p.barW]);
  const ay = g.append("g").attr("transform",`translate(${p.axisX},0)`)
    .call(d3.axisLeft(y).tickValues(p.ticks).tickFormat(fmt).tickSize(6).tickSizeOuter(0).tickPadding(7));
  styleAxis(ay, 21, 2);
  g.append("line").attr("x1",p.axisX-6).attr("x2",p.xEnd).attr("y1",p.y0).attr("y2",p.y0).attr("stroke","#000").attr("stroke-width",2);
  p.vals.forEach((v,k) => {
    const col = p.colors[k], e = p.errs[k];
    g.append("rect").attr("x",xb(k)).attr("y",y(v)).attr("width",xb.bandwidth()).attr("height",p.y0 - y(v)).attr("fill",col);
    const cx = xb(k) + xb.bandwidth()/2;
    g.append("line").attr("x1",cx).attr("x2",cx).attr("y1",y(v)).attr("y2",y(v+e)).attr("stroke",col).attr("stroke-width",2);
    g.append("line").attr("x1",cx-6).attr("x2",cx+6).attr("y1",y(v+e)).attr("y2",y(v+e)).attr("stroke",col).attr("stroke-width",2);
  });
  p.sig.forEach(([v,a,b,ci]) => g.append("line").attr("x1",xu(a)).attr("x2",xu(b)).attr("y1",y(v)).attr("y2",y(v))
    .attr("stroke",p.colors[ci]).attr("stroke-width",2.5));
  g.append("text").attr("transform",`translate(${p.ylx},${p.yly}) rotate(-90)`).attr("text-anchor","middle")
    .attr("dy","0.35em").attr("font-size",21).attr("fill","#111").text(p.ylab);
  g.append("text").attr("x",p.labelX).attr("y",1148).attr("font-size",23).attr("font-weight","bold").attr("fill","#111").text(p.label);
}
const latencyPanels = [
  {label:"A4",labelX:20,axisX:98,y0:1458,yTop:1171,max:30,ticks:swsLatTicks,barX0:111,barW:27.25,xEnd:233,vals:A4_swsLatency,errs:A4_err,colors:colorsA,sig:A4_sig,ylab:"SWS Latency (min)",ylx:39,yly:1313},
  {label:"A5",labelX:235,axisX:313,y0:1457,yTop:1166,max:600,ticks:rems600Ticks,barX0:329,barW:25.25,xEnd:440,vals:A5_remsLatency,errs:A5_err,colors:colorsA,sig:A5_sig,ylab:"REMS Latency (min)",ylx:242,yly:1300},
  {label:"B4",labelX:447,axisX:510,y0:1457,yTop:1165,max:30,ticks:swsLatTicks,barX0:523,barW:27.5,xEnd:645,vals:B4_swsLatency,errs:B4_err,colors:colorsB,sig:B4_sig,ylab:"SWS Latency (min)",ylx:454,yly:1307},
  {label:"B5",labelX:643,axisX:711,y0:1457,yTop:1166,max:300,ticks:rems300Ticks,barX0:730,barW:26,xEnd:845,vals:B5_remsLatency,errs:B5_err,colors:colorsB,sig:B5_sig,ylab:"REMS Latency (min)",ylx:652,yly:1300},
  {label:"C4",labelX:855,axisX:917,y0:1458,yTop:1171,max:30,ticks:swsLatTicks,barX0:928,barW:26,xEnd:1044,vals:C4_swsLatency,errs:C4_err,colors:colorsC,sig:C4_sig,ylab:"SWS Latency (min)",ylx:862,yly:1313},
  {label:"C5",labelX:1054,axisX:1136,y0:1458,yTop:1168,max:600,ticks:rems600Ticks,barX0:1148,barW:24.75,xEnd:1258,vals:C5_remsLatency,errs:C5_err,colors:colorsC,sig:C5_sig,ylab:"REMS Latency (min)",ylx:1068,yly:1304}
];
latencyPanels.forEach(drawLatency);
</script></body></html>
